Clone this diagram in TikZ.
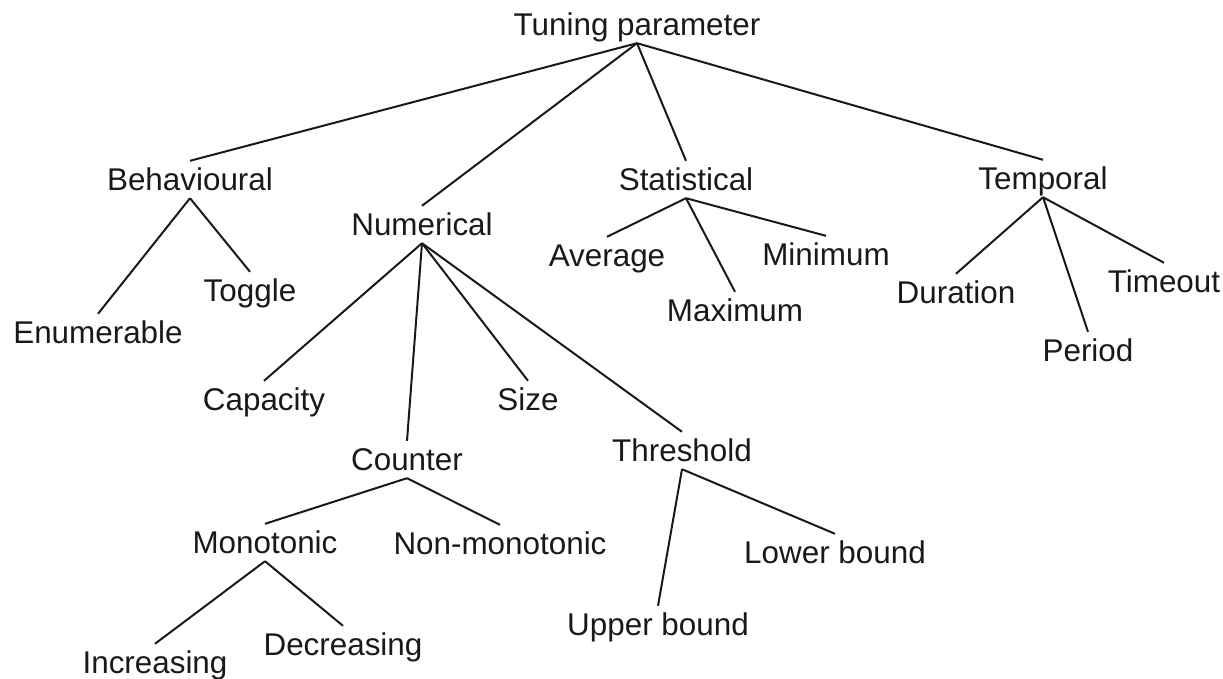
\documentclass[tikz,border=0pt]{standalone}
\usepackage{fontspec}
\setmainfont{Liberation Sans}
\begin{document}
\begin{tikzpicture}[x=1pt,y=-1pt,
  lbl/.style={anchor=base, inner xsep=2pt, inner ysep=6pt, text height=23pt, text depth=2pt,
    font=\fontsize{31.4}{36}\selectfont, text=black!90},
  edge/.style={draw=black!90, line width=2pt}]
\useasboundingbox (0,0) rectangle (1223,678);
\node[lbl] (root) at (637,35) {Tuning parameter};
\node[lbl] (beh) at (190,190) {Behavioural};
\node[lbl] (num) at (422,235) {Numerical};
\node[lbl] (stat) at (686,190) {Statistical};
\node[lbl] (temp) at (1043,189) {Temporal};
\node[lbl] (enum) at (98,343) {Enumerable};
\node[lbl] (tog) at (250,301) {Toggle};
\node[lbl] (avg) at (607,266) {Average};
\node[lbl] (min) at (826,265) {Minimum};
\node[lbl] (max) at (735,321) {Maximum};
\node[lbl] (dur) at (956,303) {Duration};
\node[lbl] (tout) at (1164,292) {Timeout};
\node[lbl] (per) at (1088,361) {Period};
\node[lbl] (cap) at (264,410) {Capacity};
\node[lbl] (size) at (528,410) {Size};
\node[lbl] (cnt) at (407,470) {Counter};
\node[lbl] (thr) at (682,461) {Threshold};
\node[lbl] (mono) at (265,553) {Monotonic};
\node[lbl] (nonmono) at (500,554) {Non-monotonic};
\node[lbl] (lower) at (835,563) {Lower bound};
\node[lbl] (upper) at (658,635) {Upper bound};
\node[lbl] (dec) at (343,655) {Decreasing};
\node[lbl] (inc) at (155,673) {Increasing};
\foreach \p/\c in {root/beh,root/num,root/stat,root/temp,
  beh/enum,beh/tog,stat/avg,stat/max,stat/min,temp/dur,temp/per,temp/tout,
  num/cap,num/cnt,num/size,num/thr,cnt/mono,cnt/nonmono,mono/inc,mono/dec,
  thr/upper,thr/lower}
  \draw[edge] (\p.south) -- (\c.north);
\end{tikzpicture}
\end{document}
